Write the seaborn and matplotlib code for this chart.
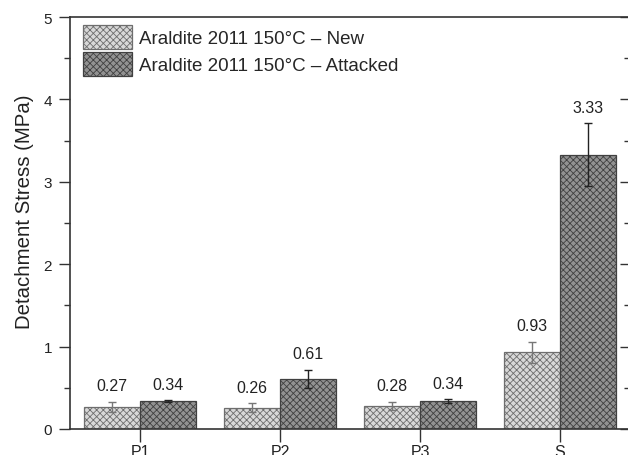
import matplotlib
matplotlib.use("Agg")
import matplotlib.pyplot as plt
import pandas as pd
import seaborn as sns
from matplotlib.ticker import MultipleLocator

samples = ["P1", "P2", "P3", "S"]
conditions = ["Araldite 2011 150°C – New", "Araldite 2011 150°C – Attacked"]
new_stress = [0.27, 0.26, 0.28, 0.93]
new_err = [0.06, 0.05, 0.05, 0.13]
attacked_stress = [0.34, 0.61, 0.34, 3.33]
attacked_err = [0.01, 0.11, 0.02, 0.38]

df = pd.DataFrame({
    "sample": samples * 2,
    "stress": new_stress + attacked_stress,
    "condition": [conditions[0]] * 4 + [conditions[1]] * 4,
})

sns.set_theme(style="ticks")
plt.rcParams["font.family"] = ["Liberation Sans", "DejaVu Sans"]
plt.rcParams["hatch.linewidth"] = 0.6
ink = "#333333"

fig = plt.figure(figsize=(6.28, 4.56), dpi=100)
ax = fig.add_axes([70 / 628, 26 / 456, 560 / 628, 412 / 456])

face = ["#d8d8d8", "#929292"]
edge = ["#6e6e6e", "#404040"]
sns.barplot(data=df, x="sample", y="stress", hue="condition", order=samples,
            hue_order=conditions, palette=face, errorbar=None, width=0.8,
            saturation=1, ax=ax, legend=False)

bar_groups = list(ax.containers)
errs = [new_err, attacked_err]
vals = [new_stress, attacked_stress]
ecol = ["#777777", "#222222"]
for i, cont in enumerate(bar_groups):
    for j, bar in enumerate(cont.patches):
        bar.set_hatch("xxxxx")
        bar.set_edgecolor(edge[i])
        bar.set_linewidth(0.9)
        xc = bar.get_x() + bar.get_width() / 2
        ax.errorbar(xc, vals[i][j], yerr=errs[i][j], fmt="none", ecolor=ecol[i],
                    elinewidth=1.0, capsize=3, capthick=1.0)
        ax.annotate(f"{vals[i][j]:.2f}", (xc, vals[i][j] + errs[i][j]),
                    xytext=(0, 6), textcoords="offset points", ha="center",
                    va="bottom", fontsize=11.5, color="#222222")

ax.set_xlim(-0.5, 3.5)
ax.set_ylim(0, 5)
ax.yaxis.set_major_locator(MultipleLocator(1))
ax.yaxis.set_minor_locator(MultipleLocator(0.5))
ax.set_xlabel("")
ax.set_ylabel("Detachment Stress (MPa)", fontsize=14.7, color="#222222")
ax.yaxis.set_label_coords(-0.064, 0.529)
ax.tick_params(axis="y", which="major", direction="out", length=8, width=1,
               labelsize=11, colors=ink, labelcolor="#222222", pad=5)
ax.tick_params(axis="y", which="minor", direction="out", length=4, width=1, colors=ink)
ax.tick_params(axis="x", direction="out", length=9, width=1, labelsize=11.5,
               colors=ink, labelcolor="#222222", pad=2)
for s in ax.spines.values():
    s.set_color(ink)
    s.set_linewidth(1.2)

ax2 = ax.twinx()
ax2.set_ylim(0, 5)
ax2.yaxis.set_major_locator(MultipleLocator(1))
ax2.yaxis.set_minor_locator(MultipleLocator(0.5))
ax2.tick_params(axis="y", which="both", direction="in", labelright=False,
                colors=ink, width=1)
ax2.tick_params(axis="y", which="major", length=7)
ax2.tick_params(axis="y", which="minor", length=4)
for s in ax2.spines.values():
    s.set_visible(False)

handles = [c.patches[0] for c in bar_groups]
ax.legend(handles=handles, labels=conditions, loc="upper left", frameon=False,
          fontsize=13.5, handlelength=2.6, handleheight=1.62, handletextpad=0.37,
          labelspacing=0.15, borderaxespad=0.0, bbox_to_anchor=(0.01, 1.0))

fig.savefig("out.png", dpi=100)
